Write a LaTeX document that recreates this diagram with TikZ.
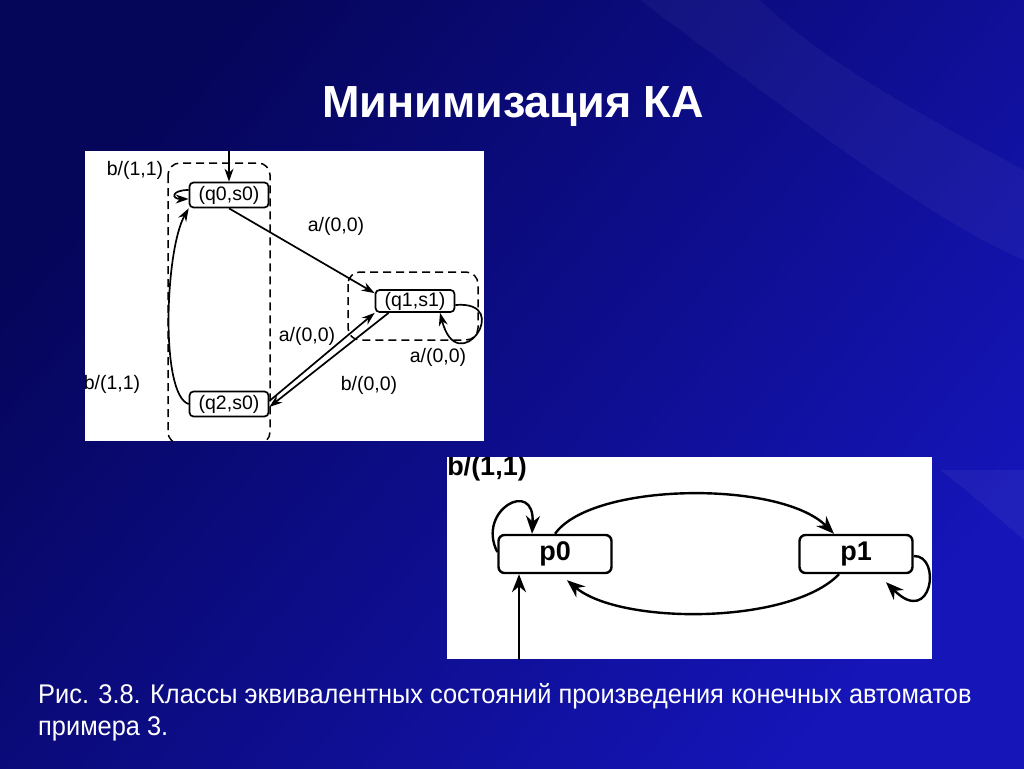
\documentclass[tikz,border=0pt]{standalone}
\usepackage{fontspec}
\setmainfont{Liberation Sans}
\usepackage{tikz}
\usetikzlibrary{arrows.meta}
\tikzset{>={Stealth[length=13pt,width=9pt]}}
\definecolor{bgdark}{HTML}{05055A}
\definecolor{bglite}{HTML}{1515B8}
\newcommand{\qfont}{\fontsize{19.5}{19.5}\selectfont}
\newcommand{\pfont}{\fontsize{27}{27}\selectfont\bfseries}
\tikzset{
  qstate/.style={draw,line width=1.7pt,rounded corners=4pt,minimum width=79pt,
    minimum height=25pt,inner sep=0pt,font=\qfont},
  pstate/.style={draw,line width=2.4pt,rounded corners=6pt,minimum width=113pt,
    minimum height=38pt,inner sep=0pt,font=\pfont},
  qlab/.style={font=\qfont,inner sep=0pt},
  qedge/.style={->,line width=1.7pt},
  pedge/.style={>={Stealth[length=18pt,width=14pt]},->,line width=2.4pt},
  classbox/.style={draw,line width=1.5pt,rounded corners=12pt,dash pattern=on 8pt off 5pt},
}
\newcommand{\backdrop}{%
  \shade[top color=bgdark,bottom color=bglite,shading angle=50] (0,0) rectangle (1024,768);
  \fill[white,opacity=.04] (640,0) .. controls (800,120) and (930,220) .. (1024,260)
    -- (1024,170) .. controls (930,120) and (820,60) .. (760,0) -- cycle;
  \fill[white,opacity=.05] (940,470) .. controls (980,500) and (1000,520) .. (1024,540)
    -- (1024,470) -- cycle;
}

\begin{document}
\begin{tikzpicture}[x=1pt,y=-1pt]
\useasboundingbox (0,0) rectangle (1024,768);
\backdrop
% title
\node[anchor=base,text=white,font=\fontsize{45}{45}\selectfont\bfseries] (title) at (513,117) {Минимизация КА};

% product automaton
\fill[white] (85,151) rectangle (484,441);
\begin{scope}
\clip (85,151) rectangle (484,441);
\draw[classbox] (168,163) rectangle (270,444);
\draw[classbox] (348,272) rectangle (478,340);
\node[qstate,fill=white] (q0) at (229,195) {(q0,s0)};
\node[qstate,fill=white,minimum height=22pt] (q1) at (415,301) {(q1,s1)};
\node[qstate,fill=white] (q2) at (229,404) {(q2,s0)};
\coordinate (start0) at (229,150);
\draw[qedge] (start0) -- (q0.north);
\draw[qedge] ([yshift=5pt]q0.west) to[out=180,in=180,looseness=5] ([yshift=-4pt]q0.west);
\draw[qedge] (q0.south) -- ([yshift=-4pt]q1.north west);
\draw[qedge] ([yshift=3pt]q2.east) -- (q1.south west);
\draw[qedge] ([xshift=14pt]q1.south west) -- ([yshift=-3pt]q2.east);
\draw[qedge] ([yshift=-4pt]q1.east) .. controls (515,300) and (458,382) .. ([xshift=25pt]q1.south);
\draw[qedge] (q2.west) .. controls (160,395) and (165,250) .. (q0.south west);
\node[qlab] (l1) at (135,170) {b/(1,1)};
\node[qlab] (l2) at (336,226) {a/(0,0)};
\node[qlab] (l3) at (307,336) {a/(0,0)};
\node[qlab] (l4) at (369,385) {b/(0,0)};
\node[qlab] (l5) at (438,357) {a/(0,0)};
\node[qlab] (l6) at (112,384) {b/(1,1)};
\end{scope}

% minimal automaton
\fill[white] (447,457) rectangle (932,659);
\begin{scope}
\clip (447,457) rectangle (932,659);
\node[pstate] (p0) at (555,554) {p0};
\node[pstate] (p1) at (856,554) {p1};
\coordinate (start1) at (519,662);
\draw[pedge] (start1) -- ([xshift=-36pt]p0.south);
\draw[pedge] (p0.north) .. controls (592,482) and (780,480) .. ([xshift=-22pt]p1.north);
\draw[pedge] ([xshift=-17pt]p1.south) .. controls (790,625) and (620,625) .. ([xshift=12pt,yshift=-6pt]p0.south);
\draw[pedge] ([yshift=2pt]p0.west) .. controls (476,510) and (535,478) .. ([xshift=-23pt]p0.north);
\draw[pedge] ([yshift=-2pt]p1.east) .. controls (942,555) and (932,628) .. ([xshift=30pt,yshift=-8pt]p1.south);
\node[font=\pfont,inner sep=0pt] (l7) at (487,469) {b/(1,1)};
\end{scope}

% caption
\node[anchor=base west,text=white,inner sep=0pt,font=\fontsize{27}{27}\selectfont] (cap1) at (38,703)
  {\scalebox{0.94}[1]{Рис. 3.8. Классы эквивалентных состояний произведения конечных автоматов}};
\node[anchor=base west,text=white,inner sep=0pt,font=\fontsize{27}{27}\selectfont] (cap2) at (38,735)
  {\scalebox{0.94}[1]{примера 3.}};
\end{tikzpicture}
\end{document}
